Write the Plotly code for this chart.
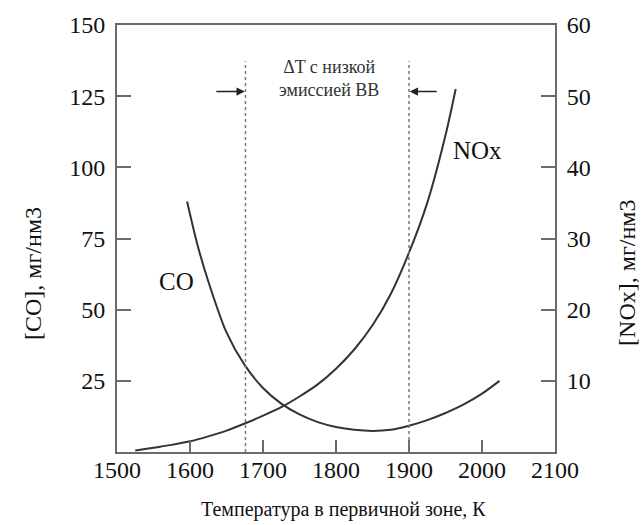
import plotly.graph_objects as go

# Data
t_co = [1596, 1610, 1625, 1650, 1675, 1700, 1725, 1750, 1775, 1800, 1825, 1850, 1875, 1900, 1925, 1950, 1975,
        2000, 2024]
co = [88, 73, 60, 42, 30.5, 22.5, 17, 13.2, 10.5, 8.8, 7.8, 7.4, 7.8, 9.2, 11.2, 13.7, 16.7, 20.5, 25]

t_nox = [1525, 1550, 1575, 1600, 1625, 1650, 1675, 1700, 1725, 1750, 1775, 1800, 1825, 1850, 1875, 1900, 1925,
         1950, 1964]
nox = [0.2, 0.6, 1.0, 1.5, 2.2, 3.0, 4.0, 5.1, 6.3, 7.8, 9.5, 11.7, 14.4, 17.8, 22.2, 28.0, 35.0, 44.5, 51.0]

x_ticks = [1500, 1600, 1700, 1800, 1900, 2000, 2100]
co_ticks = [25, 50, 75, 100, 125, 150]
nox_ticks = [10, 20, 30, 40, 50, 60]
band = [1676, 1900]  # low-emission temperature window

FONT = "Liberation Serif, Times New Roman, DejaVu Serif, serif"
AX = "#6a6a6a"
LINE = "#333333"

fig = go.Figure()
fig.add_trace(go.Scatter(x=t_co, y=co, mode="lines", line=dict(color=LINE, width=2, shape="spline", smoothing=0.8),
                         yaxis="y", showlegend=False, hoverinfo="skip"))
fig.add_trace(go.Scatter(x=t_nox, y=nox, mode="lines", line=dict(color=LINE, width=2, shape="spline", smoothing=0.8),
                         yaxis="y2", showlegend=False, hoverinfo="skip"))

for b in band:
    fig.add_shape(type="line", x0=b, x1=b, xref="x", yref="paper", y0=0, y1=0.915,
                  line=dict(color="#777777", width=1.5, dash="3px,3px"))

# arrows pointing at the band edges
fig.add_annotation(x=band[0] - 1, y=126.6, ax=1634, ay=126.6, xref="x", yref="y", axref="x", ayref="y",
                   text="", showarrow=True, arrowhead=2, arrowsize=1.1, arrowwidth=1.5, arrowcolor="#222")
fig.add_annotation(x=band[1] + 1, y=126.6, ax=1940, ay=126.6, xref="x", yref="y", axref="x", ayref="y",
                   text="", showarrow=True, arrowhead=2, arrowsize=1.1, arrowwidth=1.5, arrowcolor="#222")
fig.add_annotation(x=1790, y=131.2, xref="x", yref="y", text="ΔT с низкой<br>эмиссией ВВ", showarrow=False,
                   xanchor="center", yanchor="middle", font=dict(family=FONT, size=18, color="#333"))
fig.add_annotation(x=1582, y=60, xref="x", yref="y", text="CO", showarrow=False,
                   xanchor="center", yanchor="middle", font=dict(family=FONT, size=25, color="#111"))
fig.add_annotation(x=1994, y=42.4, xref="x", yref="y2", text="NOx", showarrow=False,
                   xanchor="center", yanchor="middle", font=dict(family=FONT, size=25, color="#111"))

# axis titles
fig.add_annotation(x=-0.192, y=0.419, xref="paper", yref="paper", text="[CO], мг/нм3", textangle=-90,
                   xanchor="center", yanchor="middle", showarrow=False, font=dict(family=FONT, size=24, color="#111"))
fig.add_annotation(x=1.164, y=0.419, xref="paper", yref="paper", text="[NOx], мг/нм3", textangle=-90,
                   xanchor="center", yanchor="middle", showarrow=False, font=dict(family=FONT, size=24, color="#111"))
fig.add_annotation(x=0.516, y=-0.135, xref="paper", yref="paper", text="Температура в первичной зоне, К",
                   xanchor="center", yanchor="middle", showarrow=False, font=dict(family=FONT, size=20, color="#111"))

tickfont = dict(family=FONT, size=24, color="#111")
fig.update_layout(
    width=644, height=525, margin=dict(l=117, r=89, t=22, b=73),
    paper_bgcolor="white", plot_bgcolor="white",
    xaxis=dict(range=[1500, 2100], tickvals=x_ticks, ticks="inside", ticklen=12, tickwidth=1.5, tickcolor=AX,
               showline=True, linecolor=AX, linewidth=2, mirror=True, showgrid=False, zeroline=False,
               tickfont=tickfont, ticklabelstandoff=-5),
    yaxis=dict(range=[0, 150], tickvals=co_ticks, ticks="inside", ticklen=14, tickwidth=1.5, tickcolor=AX,
               showline=True, linecolor=AX, linewidth=2, showgrid=False, zeroline=False,
               tickfont=tickfont, ticklabelstandoff=5),
    yaxis2=dict(range=[0, 60], tickvals=nox_ticks, ticks="inside", ticklen=14, tickwidth=1.5, tickcolor=AX,
                overlaying="y", side="right", showline=True, linecolor=AX, linewidth=2, showgrid=False,
                zeroline=False, tickfont=tickfont, ticklabelstandoff=5),
)

fig.write_html("out.html", config={"displayModeBar": False},
               post_script="document.body.style.margin='0px';document.body.style.padding='0px';")
